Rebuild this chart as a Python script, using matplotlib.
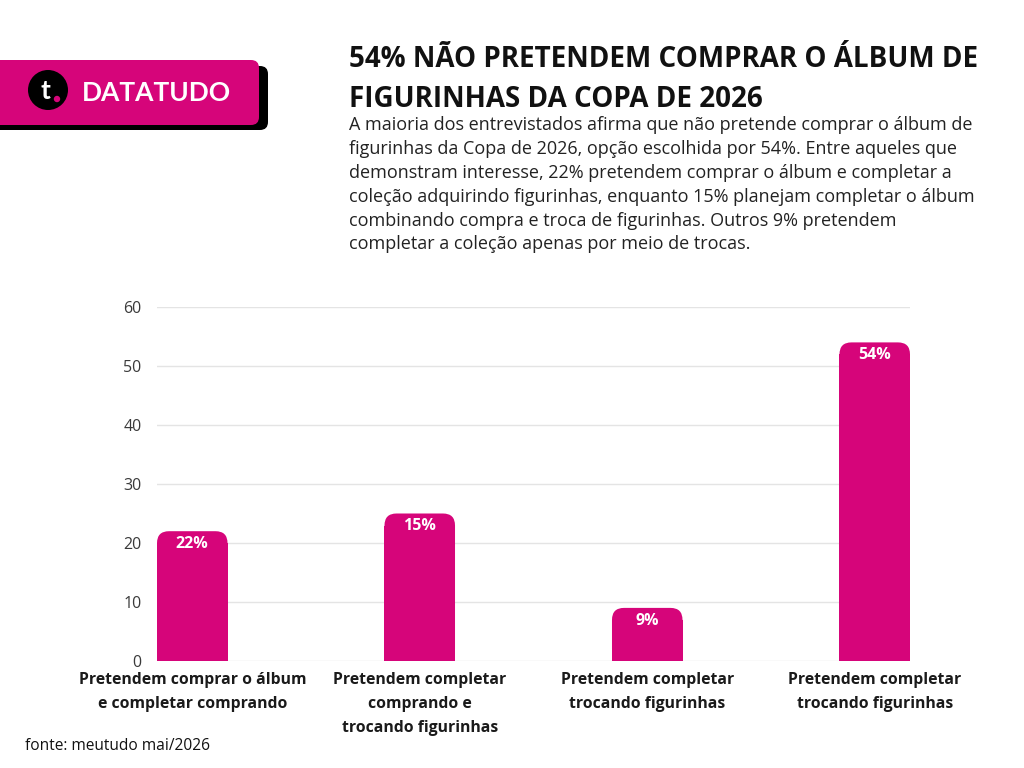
import matplotlib
matplotlib.use("Agg")
import matplotlib.pyplot as plt
from matplotlib import font_manager as fm
from matplotlib.patches import FancyBboxPatch, Circle

# data
categories = [
    "Pretendem comprar o álbum\ne completar comprando",
    "Pretendem completar\ncomprando e\ntrocando figurinhas",
    "Pretendem completar\ntrocando figurinhas",
    "Pretendem completar\ntrocando figurinhas",
]
bar_heights = [22, 25, 9, 54]
bar_labels = ["22%", "15%", "9%", "54%"]
yticks = [0, 10, 20, 30, 40, 50, 60]

title = "54% NÃO PRETENDEM COMPRAR O ÁLBUM DE\nFIGURINHAS DA COPA DE 2026"
subtitle = ("A maioria dos entrevistados afirma que não pretende comprar o álbum de\n"
            "figurinhas da Copa de 2026, opção escolhida por 54%. Entre aqueles que\n"
            "demonstram interesse, 22% pretendem comprar o álbum e completar a\n"
            "coleção adquirindo figurinhas, enquanto 15% planejam completar o álbum\n"
            "combinando compra e troca de figurinhas. Outros 9% pretendem\n"
            "completar a coleção apenas por meio de trocas.")
source = "fonte: meutudo mai/2026"

PINK = "#D6057A"
W, H = 1024, 768


def font(size, weight=400, name="Open Sans"):
    # pick the exact file so condensed variants are never chosen
    for f in fm.fontManager.ttflist:
        if (f.name == name and f.weight == weight and f.style == "normal"
                and f.stretch == "normal" and "Cond" not in f.fname):
            return fm.FontProperties(fname=f.fname, size=size)
    return fm.FontProperties(family=[name, "DejaVu Sans"], size=size,
                             weight="bold" if weight >= 700 else "normal")


plt.rcParams["font.family"] = ["Open Sans", "DejaVu Sans"]

fig = plt.figure(figsize=(W / 100, H / 100), dpi=100)
fig.patch.set_facecolor("white")

# chart area
ax_l, ax_r, ax_b, ax_t = 157, 910, 661, 307
ax = fig.add_axes([ax_l / W, 1 - ax_b / H, (ax_r - ax_l) / W, (ax_b - ax_t) / H])
bw = 0.31
x = list(range(len(bar_heights)))
ax.set_xlim(-bw / 2, len(x) - 1 + bw / 2)
ax.set_ylim(0, 60)

# pixel scales, for rounded top corners
px_x = (ax_r - ax_l) / (len(x) - 1 + bw)
px_y = (ax_b - ax_t) / 60.0
r_px = 12
rx = r_px / px_x
ry = r_px / px_y
for xi, h in zip(x, bar_heights):
    ax.bar(xi, h - ry, width=bw, color=PINK, zorder=3)
    p = FancyBboxPatch((xi - bw / 2, 0), bw, h,
                       boxstyle=f"round,pad=0,rounding_size={rx}",
                       mutation_aspect=ry / rx, fc=PINK, ec="none", zorder=3)
    ax.add_patch(p)

for xi, h, lab in zip(x, bar_heights, bar_labels):
    ax.annotate(lab, (xi, h), xytext=(0, -3.5), textcoords="offset points",
                ha="center", va="top", color="white", fontproperties=font(11.5, 700),
                zorder=4)

ax.set_yticks(yticks)
ax.set_yticklabels([str(v) for v in yticks], fontproperties=font(11.5), color="#3a3a3a")
ax.set_xticks(x)
ax.set_xticklabels(categories, fontproperties=font(11.3, 700), color="#1a1a1a",
                   linespacing=1.65)
ax.tick_params(axis="both", length=0)
ax.tick_params(axis="y", pad=11)
ax.tick_params(axis="x", pad=8)
ax.grid(axis="y", color="#e4e4e4", linewidth=1, zorder=0)
for s in ax.spines.values():
    s.set_visible(False)

# title / subtitle
fig.text(349 / W, 1 - 45 / H, title, fontproperties=font(20, 700), color="#111111",
         va="top", ha="left", linespacing=1.5)
fig.text(349 / W, 1 - 116 / H, subtitle, fontproperties=font(13), color="#222222",
         va="top", ha="left", linespacing=1.42)
fig.text(25 / W, 1 - 746 / H, source, fontproperties=font(11.2), color="#111111",
         va="center", ha="left")

# logo
lax = fig.add_axes([0, 0, 1, 1], zorder=5)
lax.set_xlim(0, W)
lax.set_ylim(H, 0)
lax.axis("off")
lax.add_patch(FancyBboxPatch((-20, 66), 288, 64, boxstyle="round,pad=0,rounding_size=8",
                             fc="black", ec="none"))
lax.add_patch(FancyBboxPatch((-20, 60), 279, 65, boxstyle="round,pad=0,rounding_size=8",
                             fc=PINK, ec="none"))
lax.add_patch(Circle((48, 90), 20, fc="black", ec="none"))
lax.text(45, 91, "t", color="white", fontproperties=font(19, 700, "Lato"),
         ha="center", va="center")
lax.add_patch(Circle((57, 99), 3.2, fc=PINK, ec="none"))
lax.text(82, 93, "DATATUDO", color="white", fontproperties=font(19, 700, "Lato"),
         ha="left", va="center")

fig.savefig("out.png", dpi=100, facecolor="white")
